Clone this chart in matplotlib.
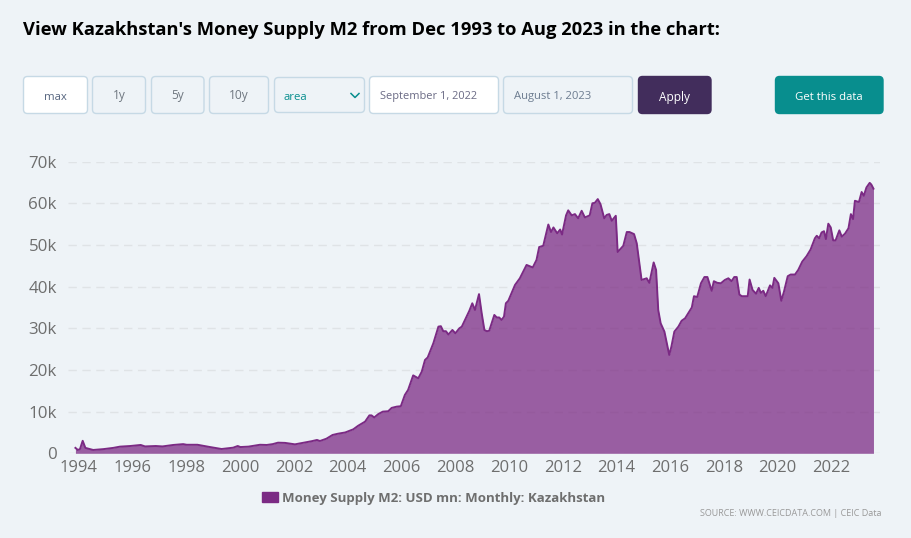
# -*- coding: utf-8 -*-

from matplotlib.patches import FancyBboxPatch, Patch
from matplotlib.transforms import ScaledTranslation
import matplotlib.pyplot as plt

plt.rcParams['font.family'] = ['Open Sans', 'DejaVu Sans']

# decimal year, USD mn
m2_dates = [
    1993.96, 1994.05, 1994.13, 1994.23, 1994.33, 1994.5, 1994.62, 1995.0, 1995.37, 1995.62,
    1996.0, 1996.39, 1996.55, 1996.95, 1997.2, 1997.6, 1997.97, 1998.1, 1998.5, 1998.97,
    1999.4, 1999.83, 2000.0, 2000.1, 2000.4, 2000.83, 2001.08, 2001.3, 2001.5, 2001.76,
    2002.13, 2002.43, 2002.75, 2002.95, 2003.06, 2003.3, 2003.53, 2003.73, 2004.0, 2004.3,
    2004.48, 2004.74, 2004.9, 2004.98, 2005.08, 2005.23, 2005.4, 2005.6, 2005.73, 2005.92,
    2006.07, 2006.22, 2006.34, 2006.53, 2006.72, 2006.85, 2006.97, 2007.07, 2007.28, 2007.47,
    2007.56, 2007.65, 2007.75, 2007.84, 2007.99, 2008.1, 2008.25, 2008.34, 2008.62, 2008.73,
    2008.83, 2008.98, 2009.08, 2009.18, 2009.27, 2009.36, 2009.55, 2009.64, 2009.73, 2009.82,
    2009.91, 2009.98, 2010.07, 2010.32, 2010.5, 2010.75, 2010.98, 2011.12, 2011.22, 2011.37,
    2011.56, 2011.66, 2011.75, 2011.89, 2012.0, 2012.07, 2012.22, 2012.3, 2012.43, 2012.55,
    2012.67, 2012.8, 2012.92, 2013.1, 2013.2, 2013.29, 2013.4, 2013.5, 2013.64, 2013.73,
    2013.83, 2013.92, 2014.07, 2014.14, 2014.35, 2014.48, 2014.58, 2014.75, 2014.85, 2015.03,
    2015.22, 2015.32, 2015.48, 2015.57, 2015.65, 2015.74, 2015.88, 2016.06, 2016.14, 2016.25,
    2016.4, 2016.52, 2016.65, 2016.9, 2016.98, 2017.1, 2017.24, 2017.37, 2017.48, 2017.64,
    2017.72, 2017.85, 2017.98, 2018.13, 2018.26, 2018.38, 2018.48, 2018.57, 2018.67, 2018.76,
    2018.98, 2019.05, 2019.16, 2019.29, 2019.39, 2019.47, 2019.56, 2019.65, 2019.81, 2019.9,
    2019.97, 2020.12, 2020.23, 2020.33, 2020.47, 2020.58, 2020.74, 2020.86, 2021.01, 2021.17,
    2021.32, 2021.48, 2021.55, 2021.64, 2021.73, 2021.82, 2021.89, 2021.98, 2022.07, 2022.16,
    2022.25, 2022.39, 2022.48, 2022.6, 2022.73, 2022.82, 2022.9, 2022.97, 2023.12, 2023.22,
    2023.3, 2023.4, 2023.52, 2023.58, 2023.66,
]
m2_values = [
    1300, 800, 1000, 3000, 1300, 1000, 800, 1000, 1300, 1600,
    1750, 2000, 1650, 1750, 1650, 2000, 2200, 2050, 2050, 1500,
    1030, 1350, 1750, 1500, 1600, 2050, 2000, 2200, 2550, 2500,
    2150, 2500, 2900, 3200, 2950, 3500, 4400, 4700, 5000, 5750,
    6600, 7600, 9100, 9100, 8600, 9400, 10000, 10100, 10900, 11200,
    11300, 14000, 15200, 18700, 18000, 19600, 22400, 23000, 26400, 30400,
    30500, 29300, 29300, 28500, 29600, 28800, 30000, 30400, 34200, 36000,
    34400, 38200, 33600, 29600, 29300, 29400, 33200, 32600, 32600, 32000,
    32800, 36000, 36600, 40400, 42000, 45200, 44600, 46400, 49500, 49800,
    54900, 53100, 54200, 52800, 53700, 52500, 57100, 58300, 57100, 57400,
    56400, 58200, 56600, 57100, 60000, 60100, 61000, 59800, 56400, 57200,
    57400, 55800, 57000, 48300, 49800, 53100, 53100, 52600, 50400, 41600,
    42000, 40900, 45800, 44000, 34400, 31200, 29200, 23600, 25600, 29200,
    30400, 31800, 32400, 35000, 37700, 37500, 40800, 42300, 42300, 39000,
    41300, 40900, 40800, 41600, 42000, 41300, 42300, 42300, 38100, 37700,
    37700, 41700, 39200, 38300, 39700, 38500, 39000, 37700, 40300, 39700,
    42100, 40800, 36600, 38800, 42500, 42900, 42900, 44000, 46000, 47300,
    48900, 51600, 52200, 51600, 53000, 53300, 51400, 55100, 54200, 51100,
    51100, 53500, 52000, 52700, 54000, 57400, 56200, 60600, 60300, 62700,
    61800, 63800, 64900, 64500, 63500,
]
year_ticks = [1994, 1996, 1998, 2000, 2002, 2004, 2006, 2008, 2010, 2012, 2014, 2016, 2018, 2020, 2022]
value_ticks = [0, 10000, 20000, 30000, 40000, 50000, 60000, 70000]
value_labels = ['0', '10k', '20k', '30k', '40k', '50k', '60k', '70k']

W, H = 911, 538
BG = '#eef3f7'
PURPLE = '#7b2a84'
BORDER = '#c6d9e5'

fig = plt.figure(figsize=(W / 100, H / 100), dpi=100, facecolor=BG)

# main chart, 68..880 px wide, 161.6..453.3 px tall
ax = fig.add_axes([68 / W, 1 - 453.3 / H, (880 - 68) / W, (453.3 - 161.6) / H], facecolor='none')
ax.set_xlim(1994 - 8.5 / 26.87, 1994 + (880 - 76.5) / 26.87)
ax.set_ylim(0, 70000)
for s in ax.spines.values():
    s.set_visible(False)

ax.set_axisbelow(True)
ax.grid(axis='y', color='#dfe3e6', linewidth=1, linestyle=(0, (6, 4)))
area = ax.fill_between(m2_dates, m2_values, 0, color=PURPLE, alpha=0.74, linewidth=0, zorder=2)
ax.plot(m2_dates, m2_values, color=PURPLE, linewidth=1.4, zorder=3, solid_joinstyle='round')

ax.set_xticks(year_ticks)
ax.set_xticklabels([str(y) for y in year_ticks])
ax.set_yticks(value_ticks)
ax.set_yticklabels(value_labels)
ax.tick_params(axis='x', length=0, pad=5, labelsize=12, labelcolor='#6e6e6e')
ax.tick_params(axis='y', length=0, pad=8, labelsize=12.2, labelcolor='#6e6e6e')
nudge = ScaledTranslation(2.5 / 100, 0, fig.dpi_scale_trans)
for t in ax.get_xticklabels():
    t.set_transform(t.get_transform() + nudge)

ax.legend(handles=[Patch(color=PURPLE, label='Money Supply M2: USD mn: Monthly: Kazakhstan')],
          loc='center left', bbox_to_anchor=(262 / W, 1 - 498.5 / H), bbox_transform=fig.transFigure,
          frameon=False, borderpad=0, borderaxespad=0, handlelength=1.25, handleheight=0.8,
          handletextpad=0.3,
          prop={'size': 9.5, 'weight': 'bold'}, labelcolor='#6e6e6e')

# page furniture, in pixel coordinates
page = fig.add_axes([0, 0, 1, 1], facecolor='none')
page.set_xlim(0, W)
page.set_ylim(H, 0)
page.axis('off')


def button(x0, x1, y0, y1, face, edge, label, color, lx=None, size=8.6, dy=1):
    box = FancyBboxPatch((x0, y0), x1 - x0, y1 - y0, boxstyle='round,pad=0,rounding_size=4',
                         facecolor=face, edgecolor=edge, linewidth=1)
    page.add_patch(box)
    if lx is None:
        page.text((x0 + x1) / 2, (y0 + y1) / 2 + dy, label, color=color, fontsize=size, ha='center', va='center')
    else:
        page.text(lx, (y0 + y1) / 2 + dy, label, color=color, fontsize=size, ha='left', va='center')


page.text(23, 30, "View Kazakhstan's Money Supply M2 from Dec 1993 to Aug 2023 in the chart:",
          fontsize=13.28, fontweight='bold', color='black', ha='left', va='center')

button(23.5, 87.5, 76.5, 113.5, 'white', BORDER, 'max', '#56657f', size=8.2, dy=2.5)
button(92.5, 145.5, 76.5, 113.5, BG, BORDER, '1y', '#6f7780')
button(151.5, 204, 76.5, 113.5, BG, BORDER, '5y', '#6f7780')
button(209.5, 268.5, 76.5, 113.5, BG, BORDER, '10y', '#6f7780')
button(274.5, 364.5, 77.5, 112.5, BG, BORDER, 'area', '#088e8e', lx=284, size=8.2, dy=2.5)
page.plot([351, 355, 359], [93.5, 97.5, 93.5], color='#088e8e', linewidth=1.1)
button(369.5, 498.5, 76.5, 113.5, 'white', BORDER, 'September 1, 2022', '#6b6b85', lx=380, size=7.95, dy=2)
button(503.5, 632.5, 76.5, 113.5, BG, BORDER, 'August 1, 2023', '#6c7c90', lx=514, size=8.1, dy=2)
button(638.5, 711, 76.5, 113.5, '#422d5c', '#422d5c', 'Apply', 'white', size=8.6, dy=2)
button(775.5, 883, 76.5, 113.5, '#088e8e', '#088e8e', 'Get this data', 'white', size=8.2, dy=2.5)

page.text(881, 514, 'SOURCE: WWW.CEICDATA.COM | CEIC Data', fontsize=6.5, color='#999999', ha='right', va='center')

fig.savefig('out.png', dpi=100, facecolor=BG)
